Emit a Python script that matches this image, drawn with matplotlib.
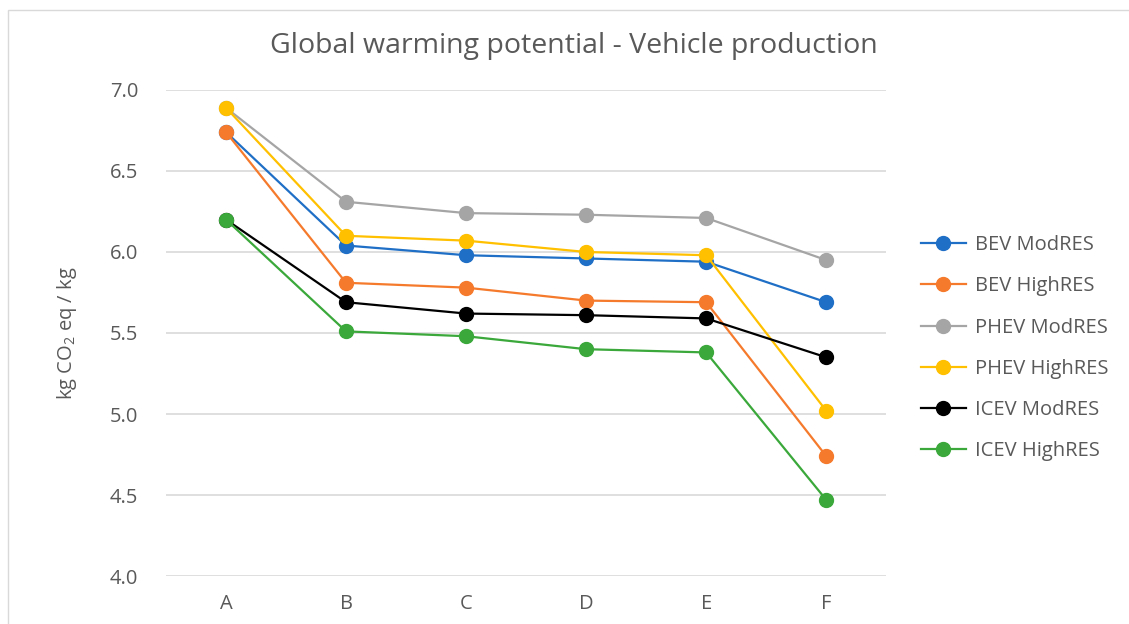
import matplotlib.pyplot as plt

plt.rcParams['font.family'] = ['Open Sans', 'DejaVu Sans']
plt.rcParams['mathtext.fontset'] = 'custom'
plt.rcParams['mathtext.rm'] = 'Open Sans'
plt.rcParams['mathtext.it'] = 'Open Sans'

# Scenarios on the x axis
categories = ['A', 'B', 'C', 'D', 'E', 'F']

# kg CO2 eq per kg vehicle, one list per drivetrain / electricity mix
bev_mod = [6.74, 6.04, 5.98, 5.96, 5.94, 5.69]
bev_high = [6.74, 5.81, 5.78, 5.70, 5.69, 4.74]
phev_mod = [6.89, 6.31, 6.24, 6.23, 6.21, 5.95]
phev_high = [6.89, 6.10, 6.07, 6.00, 5.98, 5.02]
icev_mod = [6.20, 5.69, 5.62, 5.61, 5.59, 5.35]
icev_high = [6.20, 5.51, 5.48, 5.40, 5.38, 4.47]

series_names = ['BEV ModRES', 'BEV HighRES', 'PHEV ModRES',
                'PHEV HighRES', 'ICEV ModRES', 'ICEV HighRES']
series_values = [bev_mod, bev_high, phev_mod, phev_high, icev_mod, icev_high]
colors = ['#1f6fc6', '#f57a2c', '#a5a5a5', '#ffc000', '#000000', '#3aa83a']

fig = plt.figure(figsize=(11.29, 6.24), dpi=100)
ax = fig.add_axes([0.147, 0.0769, 0.638, 0.7789])

x = range(len(categories))
for name, vals, c in zip(series_names, series_values, colors):
    ax.plot(x, vals, color=c, lw=1.6, marker='o', markersize=10,
            label=name, zorder=3)

ax.set_xlim(-0.5, len(categories) - 0.5)
ax.set_ylim(4.0, 7.0)
ax.set_yticks([4.0, 4.5, 5.0, 5.5, 6.0, 6.5, 7.0])
ax.set_yticklabels(['4.0', '4.5', '5.0', '5.5', '6.0', '6.5', '7.0'])
ax.set_xticks(list(x))
ax.set_xticklabels(categories)
ax.tick_params(axis='both', length=0, labelsize=14.5, labelcolor='#595959')
ax.tick_params(axis='y', pad=20)
ax.tick_params(axis='x', pad=13)
ax.grid(axis='y', color='#d9d9d9', lw=1.2)
ax.set_axisbelow(True)
for s in ax.spines.values():
    s.set_visible(False)

ax.set_ylabel('kg CO$_2$ eq / kg', fontsize=14.5, color='#595959', labelpad=22)
fig.text(0.508, 0.927, 'Global warming potential - Vehicle production',
         ha='center', va='center', fontsize=20.5, color='#595959')

leg = fig.legend(loc='center left', bbox_to_anchor=(0.800, 0.442),
                 frameon=False, fontsize=14.5, labelspacing=1.05,
                 handlelength=2.2, handletextpad=0.45)
for t in leg.get_texts():
    t.set_color('#595959')

# thin border round the whole chart
fig.add_artist(plt.Rectangle((0.007, -0.01), 1.1, 0.994, transform=fig.transFigure,
                             fill=False, ec='#d9d9d9', lw=1))

fig.savefig('out.png', dpi=100)
